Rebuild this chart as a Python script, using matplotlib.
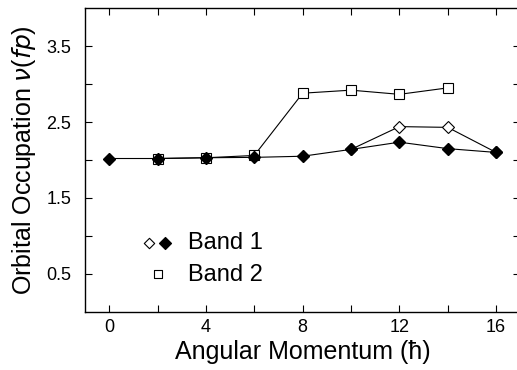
import matplotlib.pyplot as plt
from matplotlib.ticker import FixedLocator, NullFormatter

plt.rcParams['font.family'] = ['Liberation Sans', 'DejaVu Sans']

# angular momentum values
spin = [0, 2, 4, 6, 8, 10, 12, 14, 16]
band1_filled = [2.02, 2.02, 2.03, 2.035, 2.05, 2.14, 2.235, 2.15, 2.10]

spin_open = [10, 12, 14, 16]
band1_open = [2.14, 2.44, 2.43, 2.10]

spin_b2 = [2, 4, 6, 8, 10, 12, 14]
band2 = [2.02, 2.03, 2.06, 2.88, 2.92, 2.865, 2.95]

fig = plt.figure(figsize=(5.17, 3.70), dpi=100)
ax = fig.add_axes([0.1644, 0.157, 0.842, 0.821])

ax.plot(spin_b2, band2, color='black', lw=0.8, marker='s', ms=6.5,
        mfc='white', mec='black', mew=0.8, zorder=2)
ax.plot(spin_open, band1_open, color='black', lw=0.8, marker='D', ms=6,
        mfc='white', mec='black', mew=0.8, zorder=3)
ax.plot(spin, band1_filled, color='black', lw=0.8, marker='D', ms=6,
        mfc='black', mec='black', zorder=4)

ax.set_xlim(-1, 17)
ax.set_ylim(0, 4)
ax.set_xticks([0, 4, 8, 12, 16])
ax.xaxis.set_minor_locator(FixedLocator([2, 6, 10, 14]))
ax.set_yticks([0.5, 1.5, 2.5, 3.5])
ax.yaxis.set_minor_locator(FixedLocator([1, 2, 3]))
ax.yaxis.set_minor_formatter(NullFormatter())
ax.tick_params(which='both', direction='in', top=True, right=True,
               length=5, width=0.8, labelsize=13)
ax.tick_params(axis='x', pad=5)
ax.tick_params(axis='y', pad=10)

for s in ax.spines.values():
    s.set_linewidth(1.0)

ax.set_xlabel('Angular Momentum (ħ)', fontsize=18, labelpad=3)
ax.set_ylabel(r'Orbital Occupation $\nu$($fp$)', fontsize=18, labelpad=6)

# legend drawn by hand
ax.scatter([0.147], [0.226], marker='D', s=28, facecolors='white',
           edgecolors='black', linewidths=0.8, transform=ax.transAxes)
ax.scatter([0.184], [0.226], marker='D', s=36, facecolors='black',
           edgecolors='black', transform=ax.transAxes)
ax.scatter([0.168], [0.125], marker='s', s=36, facecolors='white',
           edgecolors='black', linewidths=0.8, transform=ax.transAxes)
ax.text(0.237, 0.226, 'Band 1', transform=ax.transAxes, fontsize=17,
        va='center', ha='left')
ax.text(0.237, 0.122, 'Band 2', transform=ax.transAxes, fontsize=17,
        va='center', ha='left')

fig.savefig('out.png', dpi=100)
